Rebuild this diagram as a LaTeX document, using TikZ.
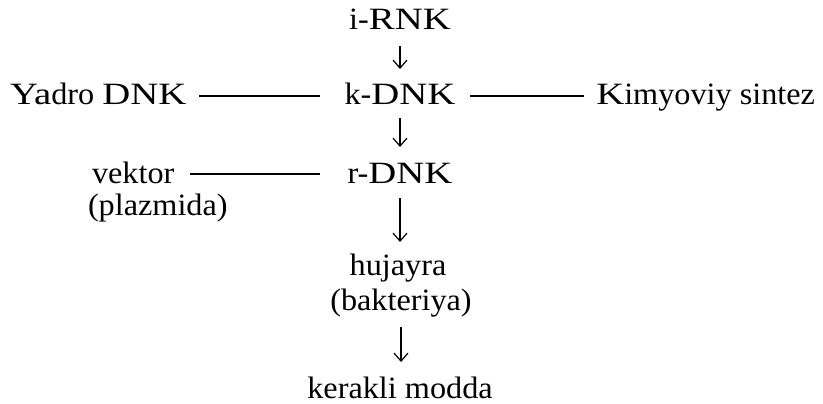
\documentclass[tikz,border=0pt]{standalone}
\usepackage{fontspec}
\setmainfont{Liberation Serif}[FakeStretch=1.04]
% capitals are set a little wider than the lowercase
\newfontfamily\widecaps{Liberation Serif}[FakeStretch=1.25]
\newcommand{\W}[1]{{\widecaps #1}}
\usetikzlibrary{arrows.meta}
\begin{document}
\begin{tikzpicture}[x=1pt,y=-1pt,
  font=\fontsize{31}{36}\selectfont,
  term/.style={inner sep=0pt,outer sep=0pt},
  flow/.style={line width=1.2pt,-{Straight Barb[length=8pt,width=14pt,line width=1.2pt]}},
  link/.style={line width=1.3pt}]
\useasboundingbox (0,0) rectangle (823,404);

% main chain
\node[term,anchor=base] (irnk) at (400,30) {i-\W{RNK}};
\node[term,anchor=base] (kdnk) at (400,105) {k-\W{DNK}};
\node[term,anchor=base] (rdnk) at (400,183) {r-\W{DNK}};
\node[term,anchor=base] (huj)  at (398,275) {hujayra};
\node[term,anchor=base] (bak)  at (401,310) {(bakteriya)};
\node[term,anchor=base] (ker)  at (400,398) {kerakli modda};

% side sources
\node[term,anchor=base west] (yadro) at (10,105) {\W{Ya}dro \W{DNK}};
\node[term,anchor=base east] (kim)   at (815,105) {\W{K}imyoviy sintez};
\node[term,anchor=base west] (vek)   at (92,183) {vektor};
\node[term,anchor=base west] (plaz)  at (88,215) {(plazmida)};

% arrows down the chain, measured from the baselines
\draw[flow,shorten <=16pt,shorten >=36pt] (irnk.base) -- (kdnk.base);
\draw[flow,shorten <=13pt,shorten >=36pt] (kdnk.base) -- (rdnk.base);
\draw[flow,shorten <=15pt,shorten >=33pt] (rdnk.base) -- (rdnk.base |- huj.base);
\draw[flow,shorten <=17pt,shorten >=36pt] (bak.base) -- (bak.base |- ker.base);

% horizontal links
\draw[link,shorten <=13pt,shorten >=25pt] ([yshift=9pt]yadro.base east) -- ([yshift=9pt]kdnk.base west);
\draw[link,shorten <=15pt,shorten >=12pt] ([yshift=9pt]kdnk.base east) -- ([yshift=9pt]kim.base west);
\draw[link,shorten <=16pt,shorten >=28pt] ([yshift=9pt]vek.base east) -- ([yshift=9pt]rdnk.base west);
\end{tikzpicture}
\end{document}
